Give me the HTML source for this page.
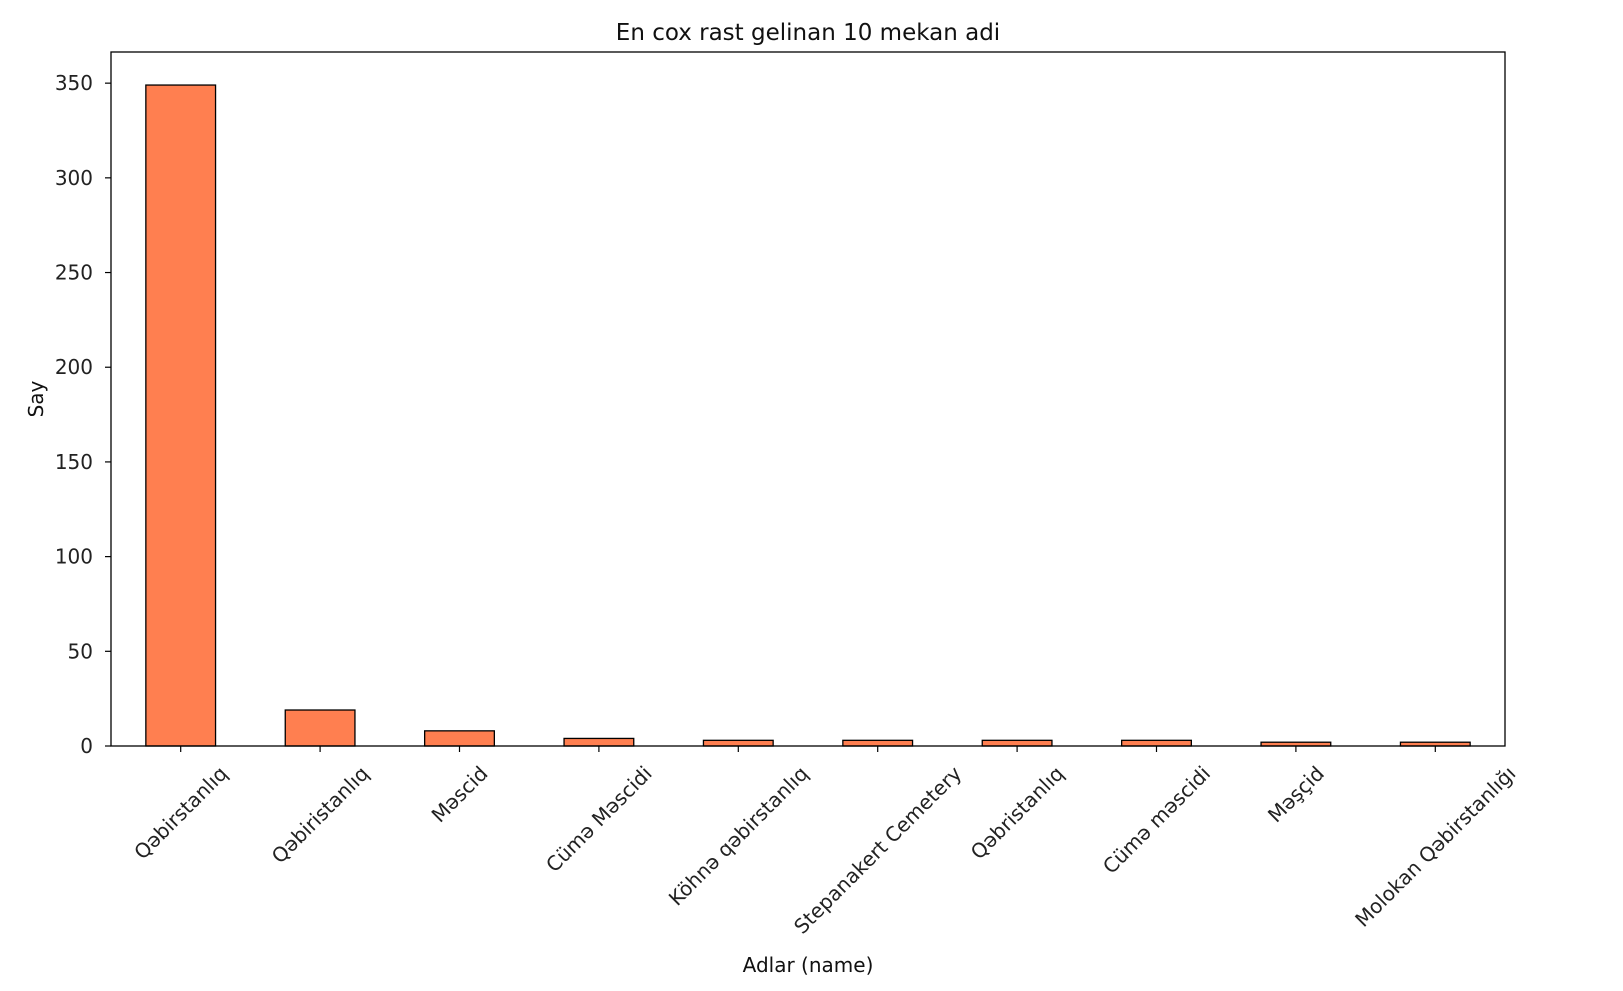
<!DOCTYPE html>
<html><head><meta charset="utf-8"><style>
html,body{margin:0;padding:0;background:#fff;}
svg{display:block;font-family:"DejaVu Sans","Liberation Sans",sans-serif;}
</style></head><body>
<svg id="chart" width="1623" height="991"></svg>
<script>
const categories = ["Qəbirstanlıq","Qəbiristanlıq","Məscid","Cümə Məscidi","Köhnə qəbirstanlıq","Stepanakert Cemetery","Qəbristanlıq","Cümə məscidi","Məşçid","Molokan Qəbirstanlığı"];
const counts = [349, 19, 8, 4, 3, 3, 3, 3, 2, 2];
const yTicks = [0, 50, 100, 150, 200, 250, 300, 350];

const NS = "http://www.w3.org/2000/svg";
const svg = document.getElementById('chart');
const L = 111, R = 1505, T = 52, B = 746;
const yMax = Math.max(...counts) * 1.05;
const yS = v => B - v / yMax * (B - T);
const band = (R - L) / categories.length;
const xS = i => L + band * (i + 0.5);
function mk(tag, attrs, parent) {
  const e = document.createElementNS(NS, tag);
  for (const k in attrs) e.setAttribute(k, attrs[k]);
  (parent || svg).appendChild(e);
  return e;
}
counts.forEach((v, i) => {
  const r = mk('rect', {x: xS(i) - band * 0.25, y: yS(v), width: band * 0.5, height: B - yS(v), fill: '#FF7F50', stroke: '#000', 'stroke-width': 1.3});
  
  
});
const f = mk('rect', {x: L, y: T, width: R - L, height: B - T, fill: 'none', stroke: '#000', 'stroke-width': 1.3});


yTicks.forEach(t => {
  const y = yS(t);
  mk('line', {x1: L - 6, x2: L, y1: y, y2: y, stroke: '#000', 'stroke-width': 1.2});
  const tx = mk('text', {x: L - 18, y: y + 7, 'text-anchor': 'end', 'font-size': 20, fill: '#222'});
  tx.textContent = t;
  
  
});
const fs = 20;
categories.forEach((c, i) => {
  const x = xS(i);
  mk('line', {x1: x, x2: x, y1: B, y2: B + 6, stroke: '#000', 'stroke-width': 1.2});
  const tx = mk('text', {x: 0, y: 0, 'text-anchor': 'middle', 'font-size': fs, fill: '#222'});
  tx.textContent = c;
  
  
  const w = tx.getComputedTextLength();
  const h = (w + fs * 1.1) * Math.SQRT1_2;
  const cy = B + 16 + h / 2;
  tx.setAttribute('transform', `translate(${x},${cy}) rotate(-45) translate(0,${fs * 0.35})`);
});
const title = mk('text', {x: (L + R) / 2, y: 40, 'text-anchor': 'middle', 'font-size': 23, fill: '#111'});
title.textContent = 'En cox rast gelinan 10 mekan adi';


const xl = mk('text', {x: (L + R) / 2, y: 972, 'text-anchor': 'middle', 'font-size': 20, fill: '#111'});
xl.textContent = 'Adlar (name)';


const yl = mk('text', {x: 0, y: 0, 'text-anchor': 'middle', 'font-size': 20, fill: '#111', transform: `translate(43,${(T + B) / 2}) rotate(-90)`});
yl.textContent = 'Say';


</script>
</body></html>
